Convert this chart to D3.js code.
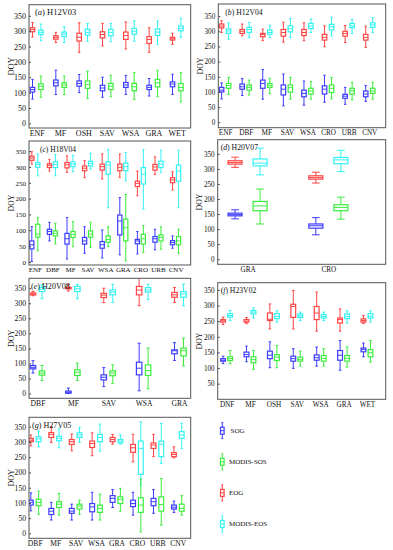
<!DOCTYPE html>
<html>
<head>
<meta charset="utf-8">
<script src="https://cdn.jsdelivr.net/npm/d3@7"></script>
<style>
body { margin: 0; background: #fff; }
svg text { font-family: "Liberation Serif", "Times New Roman", serif; fill: #111; }
</style>
</head>
<body>
<svg id="chart" width="393" height="550"></svg>
<script>
// each box is [lower whisker, q1, median, q3, upper whisker] in DOY

// (a) H12V03
var catsA = ['ENF', 'MF', 'OSH', 'SAV', 'WSA', 'GRA', 'WET'];
var sogA = [[79,102,110,117,143],[94,122,132,141,173],[100,121,130,138,159],[85,106,115,124,150],[94,117,125,133,156],[89,110,117,124,146],[94,119,128,135,160]];
var sosA = [[85,110,121,129,154],[94,117,125,132,154],[81,114,127,138,170],[87,110,121,130,156],[78,106,119,130,165],[87,119,132,143,173],[70,106,117,130,165]];
var eogA = [[281,298,305,311,328],[263,274,280,285,296],[231,268,280,293,327],[252,278,289,298,325],[242,273,286,297,330],[231,260,273,282,311],[257,271,275,280,293]];
var eosA = [[269,289,296,303,323],[263,282,290,297,314],[266,287,296,306,325],[266,285,296,306,325],[267,290,300,309,334],[257,286,297,307,333],[280,301,309,317,342]];

// (b) H12V04
var catsB = ['ENF', 'DBF', 'MF', 'SAV', 'WSA', 'CRO', 'URB', 'CNV'];
var sogB = [[77,100,106,115,130],[88,109,117,126,144],[76,112,128,139,174],[54,90,109,123,159],[56,84,95,106,136],[66,93,109,120,155],[59,79,86,92,115],[69,84,93,103,121]];
var sosB = [[92,112,121,128,148],[90,106,115,123,139],[95,115,122,128,145],[76,99,114,123,148],[76,93,103,112,134],[77,98,112,123,148],[74,93,104,112,132],[76,95,103,112,132]];
var eogB = [[296,311,317,324,335],[285,293,300,306,324],[269,282,289,293,307],[264,284,296,306,330],[269,286,296,306,328],[249,271,280,290,318],[263,284,293,300,319],[247,271,280,290,317]];
var eosB = [[274,293,301,308,328],[279,296,306,313,329],[279,290,296,304,320],[280,298,309,318,342],[296,309,317,326,340],[285,304,315,323,346],[293,312,318,326,339],[296,313,321,328,345]];

// (c) H18V04
var catsC = ['ENF', 'DBF', 'MF', 'SAV', 'WSA', 'GRA', 'CRO', 'URB', 'CNV'];
var sogC = [[1,41,54,66,111],[66,87,96,103,125],[9,56,73,90,140],[27,56,66,77,111],[12,43,54,64,101],[22,85,129,148,203],[25,57,66,71,96],[38,62,73,80,103],[43,54,61,67,82]];
var sosC = [[35,78,88,119,140],[57,82,90,98,122],[48,77,87,96,127],[46,78,88,98,125],[48,62,71,82,111],[3,66,108,135,213],[29,56,73,87,115],[40,66,77,85,111],[27,54,66,80,103]];
var eogC = [[309,321,328,334,348],[287,298,305,310,324],[283,297,307,314,335],[266,288,296,303,320],[262,290,301,309,341],[267,288,299,309,341],[209,238,248,255,287],[276,290,300,308,332],[227,250,259,266,285]];
var eosC = [[272,299,308,314,341],[272,298,308,316,339],[285,301,309,316,337],[293,303,311,318,343],[171,277,306,316,355],[256,288,301,312,346],[167,246,277,298,355],[282,298,309,318,353],[171,255,287,306,353]];

// (d) H20V07
var catsD = ['GRA', 'CRO'];
var sogD = [[134,144,148,153,164],[81,103,111,117,138]];
var sosD = [[117,161,177,192,233],[133,161,172,181,206]];
var eogD = [[305,316,321,327,339],[253,266,271,277,289]];
var eosD = [[280,310,319,333,369],[291,317,330,338,362]];

// (e) H20V08
var catsE = ['DBF', 'MF', 'SAV', 'WSA', 'GRA'];
var sogE = [[68,82,87,93,109],[0,1,4,8,18],[23,45,54,62,86],[9,62,84,104,167],[110,132,142,145,169]];
var sosE = [[43,61,68,75,93],[43,60,71,79,101],[34,59,68,75,95],[16,60,76,95,151],[92,125,142,151,184]];
var eogE = [[325,328,331,334,339],[341,348,350,353,363],[302,319,327,333,350],[292,328,344,356,390],[303,320,328,336,352]];
var eosE = [[315,339,347,353,362],[315,339,348,356,363],[303,328,337,344,363],[313,337,344,352,363],[292,320,331,339,363]];

// (f) H23V02
var catsF = ['DNF', 'MF', 'OSH', 'SAV', 'WSA', 'GRA', 'WET'];
var sogF = [[114,122,125,130,138],[120,136,143,151,170],[101,130,141,154,184],[99,122,130,138,162],[106,125,133,142,167],[93,125,141,156,188],[136,152,159,164,180]];
var sosF = [[114,124,130,136,156],[96,117,127,136,156],[101,124,135,143,172],[106,122,127,135,154],[106,122,131,140,162],[103,122,131,140,168],[119,136,149,159,188]];
var eogF = [[239,247,251,255,263],[242,247,250,255,262],[225,252,256,276,305],[225,262,297,304,348],[218,255,276,297,343],[218,244,255,260,289],[242,247,252,257,268]];
var eosF = [[252,263,268,274,284],[260,273,279,284,292],[247,258,265,274,283],[252,262,267,273,279],[252,260,265,271,279],[244,258,265,273,283],[247,260,266,274,283]];

// (g) H27V05
var catsG = ['DBF', 'MF', 'SAV', 'WSA', 'GRA', 'CRO', 'URB', 'CNV'];
var sogG = [[74,93,102,109,133],[44,62,73,82,102],[44,66,73,82,96],[44,71,87,98,135],[85,102,115,124,144],[60,88,98,109,135],[66,91,104,115,144],[69,80,86,93,106]];
var sosG = [[63,91,102,112,139],[60,85,96,104,131],[63,80,90,96,109],[44,69,82,93,129],[73,98,112,120,148],[5,69,93,117,178],[27,73,95,120,180],[60,73,82,96,124]];
var eogG = [[287,301,306,312,323],[299,315,325,331,350],[271,292,301,308,326],[255,282,295,303,330],[293,301,308,315,325],[235,266,281,292,325],[252,279,290,297,325],[248,252,259,265,284]];
var eosG = [[284,301,310,317,336],[281,304,312,319,345],[299,315,323,330,348],[270,301,315,325,359],[293,297,303,308,323],[159,194,279,303,366],[230,252,293,303,361],[279,312,323,334,361]];

var seriesNames = ['SOG', 'MODIS-SOS', 'EOG', 'MODIS-EOS'];
var seriesColors = ['#3c3cff', '#3cee3c', '#ff4444', '#33f2f2'];
var yTicks = [0, 50, 100, 150, 200, 250, 300, 350];

var panels = [
  {tag: 'a', tile: 'H12V03', cats: catsA, s: [sogA, sosA, eogA, eosA], l: 29, r: 190.7, t: 4.7, b: 128, xd: [-0.33, 6.6], yd: [-15, 386], off: 0.18, bw: 4.5, tx: 6, fs: 8},
  {tag: 'b', tile: 'H12V04', cats: catsB, s: [sogB, sosB, eogB, eosB], l: 218.3, r: 385.7, t: 4, b: 127.7, xd: [-0.33, 7.8], yd: [-18, 390], off: 0.17, bw: 4.5, tx: 7, fs: 7.2},
  {tag: 'c', tile: 'H18V04', cats: catsC, s: [sogC, sosC, eogC, eosC], l: 29, r: 190.7, t: 141, b: 265, xd: [-0.33, 8.86], yd: [-10, 382], off: 0.17, bw: 4.2, tx: 11, fs: 7},
  {tag: 'd', tile: 'H20V07', cats: catsD, s: [sogD, sosD, eogD, eosD], l: 217.7, r: 385.7, t: 139.7, b: 264.3, xd: [-0.37, 1.71], yd: [-17, 397], off: 0.155, bw: 14, tx: 3, fs: 7.2},
  {tag: 'e', tile: 'H20V08', cats: catsE, s: [sogE, sosE, eogE, eosE], l: 29, r: 190.7, t: 278.3, b: 398.3, xd: [-0.24, 4.33], yd: [-16, 383], off: 0.127, bw: 5.5, tx: 2, fs: 7.6},
  {tag: 'f', tile: 'H23V02', cats: catsF, s: [sogF, sosF, eogF, eosF], l: 217.7, r: 385.7, t: 282.7, b: 399.3, xd: [-0.38, 6.8], yd: [0, 373], off: 0.15, bw: 4.8, tx: 3, fs: 7.2},
  {tag: 'g', tile: 'H27V05', cats: catsG, s: [sogG, sosG, eogG, eosG], l: 29, r: 190.7, t: 417.3, b: 538.3, xd: [-0.28, 7.63], yd: [-16, 381], off: 0.19, bw: 4.8, tx: 3, fs: 7.6}
];

var svg = d3.select('#chart');

function drawBox(g, cx, w, st, y, color) {
  var bx = g.append('g').attr('stroke', color).attr('fill', 'none').attr('stroke-width', 1);
  var cw = w * 0.55;
  bx.append('line').attr('x1', cx).attr('x2', cx).attr('y1', y(st[0])).attr('y2', y(st[1]));
  bx.append('line').attr('x1', cx).attr('x2', cx).attr('y1', y(st[3])).attr('y2', y(st[4]));
  bx.append('line').attr('x1', cx - cw / 2).attr('x2', cx + cw / 2).attr('y1', y(st[0])).attr('y2', y(st[0]));
  bx.append('line').attr('x1', cx - cw / 2).attr('x2', cx + cw / 2).attr('y1', y(st[4])).attr('y2', y(st[4]));
  bx.append('rect').attr('x', cx - w / 2).attr('y', y(st[3])).attr('width', w).attr('height', Math.max(0.5, y(st[1]) - y(st[3]))).attr('stroke-width', 1.2);
  bx.append('line').attr('x1', cx - w / 2).attr('x2', cx + w / 2).attr('y1', y(st[2])).attr('y2', y(st[2]));
}

panels.forEach(function (p, pi) {
  var x = d3.scaleLinear().domain(p.xd).range([p.l, p.r]);
  var y = d3.scaleLinear().domain(p.yd).range([p.b, p.t]);
  var g = svg.append('g');

  g.append('clipPath').attr('id', 'clip' + pi)
    .append('rect').attr('x', p.l).attr('y', p.t).attr('width', p.r - p.l).attr('height', p.b - p.t);

  var plot = g.append('g').attr('clip-path', 'url(#clip' + pi + ')');
  p.cats.forEach(function (c, i) {
    // SOG / EOG on the left slot, MODIS on the right slot
    drawBox(plot, x(i - p.off), p.bw, p.s[2][i], y, seriesColors[2]);
    drawBox(plot, x(i + p.off), p.bw, p.s[3][i], y, seriesColors[3]);
    drawBox(plot, x(i - p.off), p.bw, p.s[0][i], y, seriesColors[0]);
    drawBox(plot, x(i + p.off), p.bw, p.s[1][i], y, seriesColors[1]);
  });

  var ya = g.append('g').attr('transform', 'translate(' + p.l + ',0)')
    .call(d3.axisLeft(y).tickValues(yTicks.filter(function (v) { return v >= p.yd[0] && !(p.tag === 'f' && v === 0); })).tickSize(-2).tickPadding(3));
  ya.select('.domain').remove();
  ya.selectAll('line').attr('stroke', '#444');
  ya.selectAll('text').attr('font-size', p.fs).attr('font-family', '"Liberation Serif", "Times New Roman", serif');

  var xa = g.append('g').attr('transform', 'translate(0,' + p.b + ')')
    .call(d3.axisBottom(x).tickValues(d3.range(p.cats.length)).tickFormat(function (i) { return p.cats[i]; }).tickSize(0).tickPadding(2.5));
  xa.select('.domain').remove();
  xa.selectAll('text').attr('font-size', p.fs).attr('font-family', '"Liberation Serif", "Times New Roman", serif');

  g.append('rect').attr('x', p.l).attr('y', p.t).attr('width', p.r - p.l).attr('height', p.b - p.t)
    .attr('fill', 'none').attr('stroke', '#555').attr('stroke-width', 1);

  var title = g.append('text').attr('x', p.l + p.tx).attr('y', p.t + 10.5).attr('font-size', p.fs + 0.5);
  title.append('tspan').text('(');
  title.append('tspan').attr('font-style', 'italic').text(p.tag);
  title.append('tspan').text(')  ' + p.tile);

  g.append('text').attr('transform', 'translate(' + (p.l - 18) + ',' + ((p.t + p.b) / 2) + ') rotate(-90)')
    .attr('text-anchor', 'middle').attr('dy', '0.35em').attr('font-size', p.fs + 0.5).text('DOY');
});

// legend
var legY = d3.scaleLinear().domain([0, 3]).range([430.7, 524]);
seriesNames.forEach(function (name, i) {
  var lg = svg.append('g').attr('stroke', seriesColors[i]).attr('fill', 'none');
  var cy = legY(i);
  lg.append('line').attr('x1', 222.3).attr('x2', 222.3).attr('y1', cy - 8).attr('y2', cy + 8);
  lg.append('line').attr('x1', 221.3).attr('x2', 223.3).attr('y1', cy - 8).attr('y2', cy - 8);
  lg.append('line').attr('x1', 221.3).attr('x2', 223.3).attr('y1', cy + 8).attr('y2', cy + 8);
  lg.append('rect').attr('x', 220.5).attr('y', cy - 3.5).attr('width', 3.6).attr('height', 7).attr('fill', '#fff').attr('stroke-width', 1.2);
  lg.append('line').attr('x1', 220.5).attr('x2', 224.1).attr('y1', cy).attr('y2', cy);
  svg.append('text').attr('x', i === 0 ? 230.5 : 229).attr('y', cy).attr('dy', '0.35em').attr('font-size', 7).text(name);
});
</script>
</body>
</html>
